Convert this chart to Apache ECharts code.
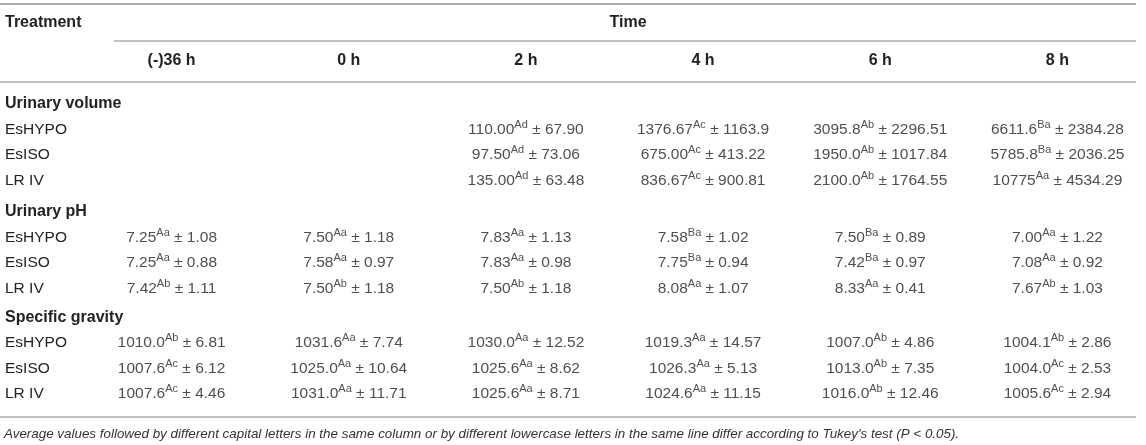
<!DOCTYPE html>
<html>
<head>
<meta charset="utf-8">
<script src="https://cdn.jsdelivr.net/npm/echarts@6.0.0/dist/echarts.min.js"></script>
<style>
  html, body { margin: 0; padding: 0; background: #fff; }
  #main { width: 1146px; height: 445px; }
</style>
</head>
<body>
<div id="main"></div>
<script>
// columns and row labels
var times = ['(-)36 h', '0 h', '2 h', '4 h', '6 h', '8 h'];
var treatments = ['EsHYPO', 'EsISO', 'LR IV'];
var groups = ['Urinary volume', 'Urinary pH', 'Specific gravity'];

// means (kept as text so the printed decimals stay as in the table), null = not measured
var volumeMean = [
    [null, null, '110.00', '1376.67', '3095.8', '6611.6'],
    [null, null, '97.50', '675.00', '1950.0', '5785.8'],
    [null, null, '135.00', '836.67', '2100.0', '10775']
];
var volumeLetters = [
    [null, null, 'Ad', 'Ac', 'Ab', 'Ba'],
    [null, null, 'Ad', 'Ac', 'Ab', 'Ba'],
    [null, null, 'Ad', 'Ac', 'Ab', 'Aa']
];
var volumeSd = [
    [null, null, '67.90', '1163.9', '2296.51', '2384.28'],
    [null, null, '73.06', '413.22', '1017.84', '2036.25'],
    [null, null, '63.48', '900.81', '1764.55', '4534.29']
];

var phMean = [
    ['7.25', '7.50', '7.83', '7.58', '7.50', '7.00'],
    ['7.25', '7.58', '7.83', '7.75', '7.42', '7.08'],
    ['7.42', '7.50', '7.50', '8.08', '8.33', '7.67']
];
var phLetters = [
    ['Aa', 'Aa', 'Aa', 'Ba', 'Ba', 'Aa'],
    ['Aa', 'Aa', 'Aa', 'Ba', 'Ba', 'Aa'],
    ['Ab', 'Ab', 'Ab', 'Aa', 'Aa', 'Ab']
];
var phSd = [
    ['1.08', '1.18', '1.13', '1.02', '0.89', '1.22'],
    ['0.88', '0.97', '0.98', '0.94', '0.97', '0.92'],
    ['1.11', '1.18', '1.18', '1.07', '0.41', '1.03']
];

var sgMean = [
    ['1010.0', '1031.6', '1030.0', '1019.3', '1007.0', '1004.1'],
    ['1007.6', '1025.0', '1025.6', '1026.3', '1013.0', '1004.0'],
    ['1007.6', '1031.0', '1025.6', '1024.6', '1016.0', '1005.6']
];
var sgLetters = [
    ['Ab', 'Aa', 'Aa', 'Aa', 'Ab', 'Ab'],
    ['Ac', 'Aa', 'Aa', 'Aa', 'Ab', 'Ac'],
    ['Ac', 'Aa', 'Aa', 'Aa', 'Ab', 'Ac']
];
var sgSd = [
    ['6.81', '7.74', '12.52', '14.57', '4.86', '2.86'],
    ['6.12', '10.64', '8.62', '5.13', '7.35', '2.53'],
    ['4.46', '11.71', '8.71', '11.15', '12.46', '2.94']
];

var footnote = 'Average values followed by different capital letters in the same column or by different lowercase letters in the same line differ according to Tukey\'s test (P < 0.05).';

var tables = [
    {mean: volumeMean, letters: volumeLetters, sd: volumeSd},
    {mean: phMean, letters: phLetters, sd: phSd},
    {mean: sgMean, letters: sgLetters, sd: sgSd}
];

var textColor = '#222';
var ruleColor = '#aaaaaa';
var fontFamily = '"Liberation Sans", Arial, Helvetica, sans-serif';
var gridTops = [91, 199, 304.5];
var rowHeight = 25.5;

var chart = echarts.init(document.getElementById('main'));

/**
 * Build the scatter points of one block of the table, one point per filled cell.
 * @param table means, letters and sd of one block
 */
function buildCells(table) {
    var cells = [];
    for (var r = 0; r < treatments.length; r++) {
        for (var c = 0; c < times.length; c++) {
            if (table.mean[r][c] == null) continue;
            cells.push({
                value: [times[c], treatments[r]],
                mean: table.mean[r][c],
                letters: table.letters[r][c],
                sd: table.sd[r][c]
            });
        }
    }
    return cells;
}

var grids = [], xAxes = [], yAxes = [], series = [];
groups.forEach(function (group, i) {
    grids.push({left: 83, width: 1066, top: gridTops[i], height: rowHeight * 4});
    xAxes.push({
        type: 'category',
        gridIndex: i,
        data: times,
        position: 'top',
        show: i === 0,
        axisLine: {show: false},
        axisTick: {show: false},
        splitLine: {show: false},
        axisLabel: {
            interval: 0,
            margin: 22,
            color: textColor,
            fontFamily: fontFamily,
            fontSize: 16,
            fontWeight: 'bold'
        }
    });
    yAxes.push({
        type: 'category',
        gridIndex: i,
        inverse: true,
        data: [group].concat(treatments),
        axisLine: {show: false},
        axisTick: {show: false},
        splitLine: {show: false},
        axisLabel: {
            interval: 0,
            align: 'left',
            margin: 78,
            color: textColor,
            fontFamily: fontFamily,
            fontSize: 15.5,
            formatter: function (value, idx) {
                return idx === 0 ? '{g|' + value + '}' : value;
            },
            rich: {
                g: {fontWeight: 'bold', fontSize: 16, color: textColor, fontFamily: fontFamily}
            }
        }
    });
    series.push({
        type: 'scatter',
        xAxisIndex: i,
        yAxisIndex: i,
        silent: true,
        symbolSize: 1,
        itemStyle: {color: 'rgba(0,0,0,0)'},
        data: buildCells(tables[i]),
        label: {
            show: true,
            position: 'inside',
            formatter: function (p) {
                return '{v|' + p.data.mean + '}{s|' + p.data.letters + '}{v| \u00b1 ' + p.data.sd + '}';
            },
            rich: {
                v: {fontSize: 15.5, lineHeight: 20, color: textColor, fontFamily: fontFamily},
                s: {fontSize: 11, lineHeight: 12, verticalAlign: 'top', color: textColor, fontFamily: fontFamily}
            }
        }
    });
});

var rule = function (x1, y, x2, w) {
    return {
        type: 'line', silent: true,
        shape: {x1: x1, y1: y, x2: x2, y2: y},
        style: {stroke: ruleColor, lineWidth: w}
    };
};

var option = {
    backgroundColor: '#fff',
    animation: false,
    grid: grids,
    xAxis: xAxes,
    yAxis: yAxes,
    series: series,
    graphic: [
        rule(0, 4, 1136, 2),
        rule(114, 41, 1136, 1.5),
        rule(0, 82, 1136, 1.5),
        rule(0, 417, 1136, 1.5),
        {
            type: 'text', x: 5, y: 23,
            style: {text: 'Treatment', font: 'bold 16px ' + fontFamily, fill: textColor, verticalAlign: 'middle'}
        },
        {
            type: 'text', x: 628, y: 23,
            style: {text: 'Time', font: 'bold 16px ' + fontFamily, fill: textColor, align: 'center', verticalAlign: 'middle'}
        },
        {
            type: 'text', x: 4, y: 434,
            style: {text: footnote, font: 'italic 13.4px ' + fontFamily, fill: '#333', verticalAlign: 'middle'}
        }
    ]
};

chart.setOption(option);

window.onresize = function () {
    chart.resize();
};
</script>
</body>
</html>
